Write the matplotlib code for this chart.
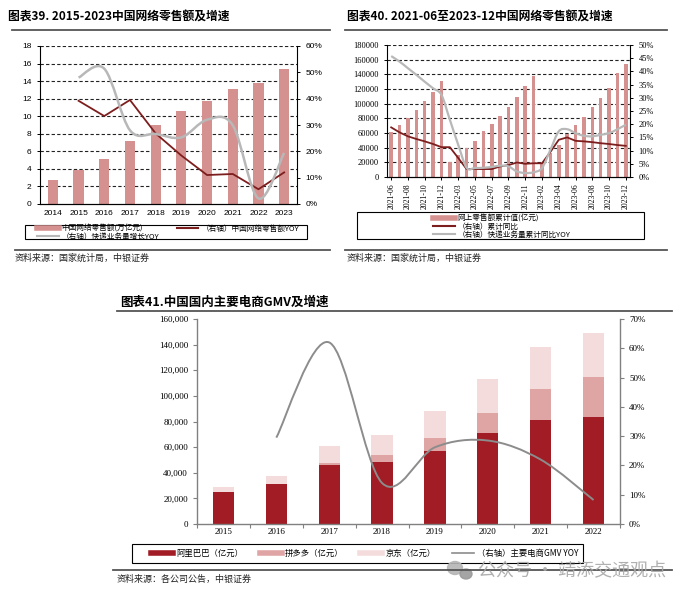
import numpy as np
import matplotlib
matplotlib.use("Agg")
import matplotlib.pyplot as plt
from matplotlib.path import Path
from matplotlib.patches import PathPatch, Rectangle, Ellipse
from matplotlib.lines import Line2D
from matplotlib.ticker import FuncFormatter

plt.rcParams['font.family'] = ['Noto Sans CJK SC', 'DejaVu Sans']

# ---- chart 39 data ----
years39 = ['2014', '2015', '2016', '2017', '2018', '2019', '2020', '2021', '2022', '2023']
retail39 = [2.79, 3.88, 5.16, 7.18, 9.01, 10.63, 11.76, 13.09, 13.79, 15.42]
retail_yoy39 = [39.2, 33.4, 39.5, 26.8, 18.4, 11.0, 11.4, 5.6, 12.0]      # 2015-2023
express_yoy39 = [48.0, 51.4, 28.0, 26.6, 25.3, 32.0, 29.9, 2.1, 19.4]     # 2015-2023

# ---- chart 40 data ----
months40 = ['2021-06', '2021-07', '2021-08', '2021-09', '2021-10', '2021-11', '2021-12',
            '2022-02', '2022-03', '2022-04', '2022-05', '2022-06', '2022-07', '2022-08',
            '2022-09', '2022-10', '2022-11', '2022-12',
            '2023-02', '2023-03', '2023-04', '2023-05', '2023-06', '2023-07', '2023-08',
            '2023-09', '2023-10', '2023-11', '2023-12']
online40 = [60800, 71200, 81100, 91600, 103400, 116500, 131000,
            20000, 30400, 39400, 49400, 63000, 72500, 83400, 96100, 109700, 124200, 138300,
            19000, 32600, 44000, 58500, 71200, 82500, 94800, 108400, 122000, 141500, 154200]
cum_yoy40 = [18.8, 16.9, 15.4, 14.4, 13.5, 12.5, 11.3,
             11.3, 7.2, 3.0, 3.0, 3.0, 3.0, 4.0, 4.5, 5.5, 5.0, 5.2,
             5.2, 9.5, 14.1, 15.0, 13.7, 13.5, 13.2, 12.8, 12.5, 12.1, 11.8]
express40 = [45.8, 43.7, 41.2, 38.7, 36.1, 33.6, 31.1,
             21.7, 12.2, 3.5, 3.4, 3.5, 3.8, 4.3, 4.0, 2.1, 1.5, 1.8,
             3.4, 10.3, 17.3, 18.1, 16.6, 15.6, 15.4, 16.0, 16.6, 18.1, 19.8]

# ---- chart 41 data ----
years41 = ['2015', '2016', '2017', '2018', '2019', '2020', '2021', '2022']
alibaba = [24900, 31000, 46000, 48300, 57100, 70900, 81300, 83400]
pdd = [0, 0, 1400, 5200, 9900, 16100, 24400, 31600]
jd = [4200, 6600, 13600, 16100, 21000, 26000, 32200, 34300]
gmv_yoy = [29.5, 62.0, 14.0, 26.2, 28.5, 22.0, 8.2]    # 2016-2022

W, H = 700, 598
fig = plt.figure(figsize=(W / 100, H / 100), dpi=100)

BAR = '#d5918f'
DARK = '#7d1e1e'
GRAY = '#b8b8b8'


def px_axes(x0, y0, x1, y1):
    return fig.add_axes([x0 / W, 1 - y1 / H, (x1 - x0) / W, (y1 - y0) / H])


def hline(x0, x1, y, color='#555555', lw=1.3):
    fig.add_artist(Line2D([x0 / W, x1 / W], [1 - y / H, 1 - y / H], color=color, lw=lw))


def box(x0, y0, x1, y1):
    fig.add_artist(Rectangle((x0 / W, 1 - y1 / H), (x1 - x0) / W, (y1 - y0) / H,
                             transform=fig.transFigure, fill=False, ec='black', lw=0.8))


def smooth(ax, xs, ys, **kw):
    # catmull-rom curve through the points, drawn as cubic bezier path
    pts = np.column_stack([xs, ys]).astype(float)
    n = len(pts)
    verts = [pts[0]]
    codes = [Path.MOVETO]
    for i in range(n - 1):
        p0 = pts[i - 1] if i > 0 else pts[i]
        p1, p2 = pts[i], pts[i + 1]
        p3 = pts[i + 2] if i + 2 < n else pts[i + 1]
        verts += [p1 + (p2 - p0) / 6, p2 - (p3 - p1) / 6, p2]
        codes += [Path.CURVE4] * 3
    ax.add_patch(PathPatch(Path(verts, codes), fill=False, **kw))


pct = FuncFormatter(lambda v, p: f'{v:.0f}%')

# ================= chart 39 =================
fig.text(8 / W, 1 - 17 / H, '图表39. 2015-2023中国网络零售额及增速', fontsize=8.5,
         fontweight='bold', va='center')
hline(12, 330, 30)

ax = px_axes(40, 46, 297, 204)
x39 = np.arange(len(years39))
ax.bar(x39, retail39, width=0.4, color=BAR, zorder=2)
ax.set_xlim(-0.5, 9.5)
ax.set_ylim(0, 18)
ax.set_yticks(range(0, 19, 2))
ax.set_xticks(x39)
ax.set_xticklabels(years39)
for y in range(2, 19, 2):
    ax.axhline(y, color='#222222', lw=0.8, ls=(0, (3, 2)), zorder=1)
ax.spines['top'].set_visible(False)
ax.spines['right'].set_visible(False)
ax.tick_params(axis='both', labelsize=6, length=2.5, width=0.7)
ax.tick_params(axis='x', length=0, pad=4)
for lab in ax.get_xticklabels() + ax.get_yticklabels():
    lab.set_fontfamily('Liberation Sans')
ax2 = ax.twinx()
ax2.set_ylim(0, 60)
ax2.set_yticks(range(0, 61, 10))
ax2.yaxis.set_major_formatter(pct)
ax2.spines['top'].set_visible(False)
ax2.spines['left'].set_visible(False)
ax2.tick_params(labelsize=6, length=2.5, width=0.7)
for lab in ax2.get_yticklabels():
    lab.set_fontfamily('Liberation Sans')
ax2.plot(x39[1:], retail_yoy39, color=DARK, lw=1.3, zorder=3)
smooth(ax2, x39[1:], express_yoy39, edgecolor=GRAY, lw=1.8, zorder=3)

box(25, 225, 307, 239)
h39 = [Line2D([], [], color=BAR, lw=4), Line2D([], [], color=GRAY, lw=1.5),
       Line2D([], [], color=DARK, lw=1.5)]
fig.legend(h39, ['中国网络零售额(万亿元)', '（右轴）快递业务量增长YOY', '（右轴）中国网络零售额YOY'],
           loc='center', bbox_to_anchor=(168 / W, 1 - 232.5 / H), ncol=2, frameon=False,
           fontsize=5.5, handlelength=2.8, handletextpad=0.4, columnspacing=2.3,
           labelspacing=0.0, borderpad=0)
hline(15, 330, 250)
fig.text(15 / W, 1 - 258 / H, '资料来源：国家统计局，中银证券', fontsize=6.5, va='center',
         color='#222222', style='italic')

# ================= chart 40 =================
fig.text(347 / W, 1 - 17 / H, '图表40. 2021-06至2023-12中国网络零售额及增速', fontsize=8.5,
         fontweight='bold', va='center')
hline(345, 667, 30)

ax = px_axes(387, 45, 630, 177)
x40 = np.arange(len(months40))
ax.bar(x40, online40, width=0.42, color=BAR, zorder=2)
ax.set_xlim(-0.5, len(months40) - 0.5)
ax.set_ylim(0, 180000)
ax.set_yticks(range(0, 180001, 20000))
ax.set_xticks(x40[::2])
ax.set_xticklabels(months40[::2], rotation=90)
for y in range(20000, 180001, 20000):
    ax.axhline(y, color='#222222', lw=0.8, ls=(0, (3, 2)), zorder=1)
ax.spines['top'].set_visible(False)
ax.spines['right'].set_visible(False)
ax.tick_params(axis='both', labelsize=6, length=2.5, width=0.7)
ax.tick_params(axis='x', labelsize=5.6, pad=2)
for lab in ax.get_xticklabels() + ax.get_yticklabels():
    lab.set_fontfamily('Liberation Serif')
ax2 = ax.twinx()
ax2.set_ylim(0, 50)
ax2.set_yticks(range(0, 51, 5))
ax2.yaxis.set_major_formatter(pct)
ax2.spines['top'].set_visible(False)
ax2.spines['left'].set_visible(False)
ax2.tick_params(labelsize=6, length=2.5, width=0.7)
for lab in ax2.get_yticklabels():
    lab.set_fontfamily('Liberation Serif')
ax2.plot(x40, cum_yoy40, color=DARK, lw=1.3, zorder=3)
smooth(ax2, x40, express40, edgecolor=GRAY, lw=1.6, zorder=3)

box(357, 212, 644, 239)
h40 = [Line2D([], [], color=BAR, lw=4), Line2D([], [], color=DARK, lw=1.5),
       Line2D([], [], color=GRAY, lw=1.5)]
fig.legend(h40, ['网上零售额累计值(亿元)', '（右轴）累计同比', '（右轴）快递业务量累计同比YOY'],
           loc='center', bbox_to_anchor=(502 / W, 1 - 226.5 / H), ncol=1, frameon=False,
           fontsize=5.5, handlelength=2.8, handletextpad=0.4, labelspacing=0.0, borderpad=0)
hline(345, 667, 250)
fig.text(347 / W, 1 - 258 / H, '资料来源：国家统计局，中银证券', fontsize=6.5, va='center',
         color='#222222', style='italic')

# ================= chart 41 =================
fig.text(120 / W, 1 - 302 / H, '图表41.中国国内主要电商GMV及增速', fontsize=9,
         fontweight='bold', va='center')
hline(117, 672, 311)

C_ALI, C_PDD, C_JD, C_LINE = '#a11c24', '#dfa4a4', '#f4dcdc', '#8c8c8c'
ax = px_axes(197, 319, 620, 524)
x41 = np.arange(len(years41))
ali_arr, pdd_arr, jd_arr = np.array(alibaba), np.array(pdd), np.array(jd)
ax.bar(x41, ali_arr, width=0.4, color=C_ALI, zorder=2)
ax.bar(x41, pdd_arr, width=0.4, bottom=ali_arr, color=C_PDD, zorder=2)
ax.bar(x41, jd_arr, width=0.4, bottom=ali_arr + pdd_arr, color=C_JD, zorder=2)
ax.set_xlim(-0.5, len(years41) - 0.5)
ax.set_ylim(0, 160000)
ax.set_yticks(range(0, 160001, 20000))
ax.yaxis.set_major_formatter(FuncFormatter(lambda v, p: f'{v:,.0f}'))
ax.set_xticks(x41)
ax.set_xticklabels(years41)
ax.set_xticks(np.arange(-0.5, len(years41)), minor=True)
ax.tick_params(axis='x', which='major', length=0, pad=3)
ax.tick_params(axis='x', which='minor', length=3, color='#808080', width=0.8)
ax.tick_params(axis='y', length=3, color='#808080', width=0.8)
ax.tick_params(labelsize=6.5)
for lab in ax.get_xticklabels() + ax.get_yticklabels():
    lab.set_fontfamily('Liberation Serif')
for s in ['top', 'right']:
    ax.spines[s].set_visible(False)
for s in ['left', 'bottom']:
    ax.spines[s].set_color('#808080')
    ax.spines[s].set_linewidth(1.0)
ax2 = ax.twinx()
ax2.set_ylim(0, 70)
ax2.set_yticks(range(0, 71, 10))
ax2.yaxis.set_major_formatter(pct)
ax2.spines['top'].set_visible(False)
ax2.spines['left'].set_visible(False)
ax2.spines['bottom'].set_visible(False)
ax2.spines['right'].set_color('#808080')
ax2.spines['right'].set_linewidth(1.0)
ax2.tick_params(labelsize=6.5, length=3, color='#808080', width=0.8)
for lab in ax2.get_yticklabels():
    lab.set_fontfamily('Liberation Serif')
smooth(ax2, x41[1:], gmv_yoy, edgecolor=C_LINE, lw=1.4, zorder=3)

box(132, 544, 583, 563)
h41 = [Line2D([], [], color=C_ALI, lw=4), Line2D([], [], color=C_PDD, lw=4),
       Line2D([], [], color=C_JD, lw=4), Line2D([], [], color=C_LINE, lw=1.2)]
fig.legend(h41, ['阿里巴巴（亿元）', '拼多多（亿元）', '京东（亿元）', '（右轴）主要电商GMV YOY'],
           loc='center', bbox_to_anchor=(365 / W, 1 - 553.5 / H), ncol=4, frameon=False,
           fontsize=6, handlelength=2.6, handletextpad=0.4, columnspacing=2.0, borderpad=0)
hline(113, 672, 570)
fig.text(117 / W, 1 - 579 / H, '资料来源：各公司公告，中银证券', fontsize=6.5, va='center',
         color='#222222', style='italic')

# watermark
fig.add_artist(Ellipse((455 / W, 1 - 568 / H), 15 / W, 13 / H, transform=fig.transFigure,
                       color='#b5b5b5', alpha=0.9))
fig.add_artist(Ellipse((466 / W, 1 - 574 / H), 12 / W, 10 / H, transform=fig.transFigure,
                       color='#9a9a9a', alpha=0.9))
fig.text(478 / W, 1 - 571 / H, '公众号 · 靖添交通观点', fontsize=13, color='#a8a8a8',
         alpha=0.9, va='center')

fig.savefig('out.png', dpi=100)
